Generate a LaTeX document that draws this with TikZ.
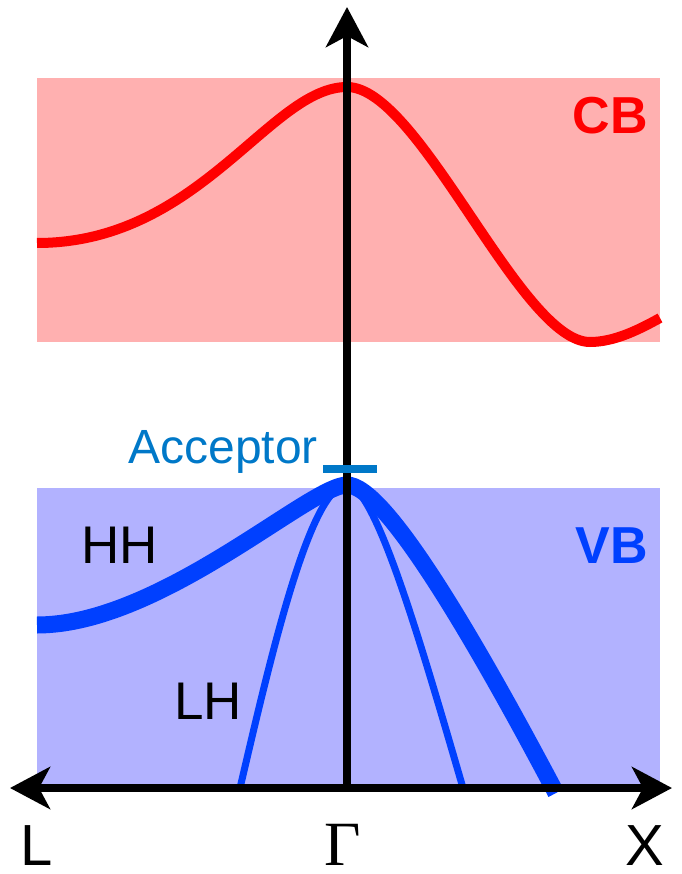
\documentclass[tikz,border=0pt]{standalone}
\usepackage{fontspec}
\setmainfont{Liberation Sans}
\newfontfamily\seriffam{Liberation Serif}
\usetikzlibrary{arrows.meta}
\definecolor{cbfill}{RGB}{255,176,176}
\definecolor{vbfill}{RGB}{178,178,255}
\definecolor{cbred}{RGB}{255,0,0}
\definecolor{vbblue}{RGB}{0,64,255}
\definecolor{accblue}{RGB}{0,120,200}
\begin{document}
\begin{tikzpicture}[x=1pt,y=-1pt,
  axisline/.style={line width=8pt,black},
  axtip/.style={-{Stealth[length=40pt,width=42pt,inset=11pt]}},
  bothtip/.style={{Stealth[length=40pt,width=42pt,inset=11pt]}-{Stealth[length=40pt,width=42pt,inset=11pt]}},
  cbcurve/.style={cbred,line width=10pt},
  hhcurve/.style={vbblue,line width=17pt},
  lhcurve/.style={vbblue,line width=7pt},
  lbl/.style={inner sep=0pt,font=\fontsize{53}{60}\selectfont},
  klbl/.style={inner sep=0pt,font=\fontsize{58}{66}\selectfont}]
\useasboundingbox (0,0) rectangle (681,874);
% band regions
\fill[cbfill] (37,78) rectangle (660,342);
\fill[vbfill] (37,488) rectangle (660,788);
% conduction band
\draw[cbcurve] (37,243) .. controls (200,243) and (270,87) .. (347,87)
  .. controls (420,87) and (520,342) .. (590,342)
  .. controls (615,342) and (640,329) .. (660,318);
% heavy hole
\draw[hhcurve] (37,625) .. controls (160,625) and (310,485) .. (347,485)
  .. controls (385,485) and (475,640) .. (556,793);
% light hole
\draw[lhcurve] (240,788) .. controls (270,660) and (310,485) .. (347,485)
  .. controls (375,485) and (420,640) .. (463,788);
% coordinates for axes
\coordinate (O) at (347,788);
\coordinate (Ltip) at (10,788);
\coordinate (Rtip) at (672,788);
\coordinate (Ttip) at (347,7);
\draw[axisline,axtip] (O) -- (Ttip);
\draw[axisline,bothtip] (Ltip) -- (Rtip);
% acceptor level
\coordinate (accL) at (323,469);
\coordinate (accR) at (377,469);
\draw[accblue,line width=8pt] (accL) -- (accR);
\node[inner sep=0pt,anchor=base east,text=accblue,font=\fontsize{48}{55}\selectfont] (acc) at (318,463) {Acceptor};
% labels
\node[lbl,anchor=base east,text=cbred,font=\fontsize{52}{60}\selectfont\bfseries] (cb) at (648,134) {CB};
\node[lbl,anchor=base east,text=vbblue,font=\fontsize{52}{60}\selectfont\bfseries] (vb) at (648,563) {VB};
\node[lbl,anchor=base west] (hh) at (81,563) {HH};
\node[lbl,anchor=base west] (lh) at (174,719) {LH};
\node[klbl,anchor=base west] (kL) at (20,865) {L};
\node[inner sep=0pt,anchor=base,font=\fontsize{63}{70}\selectfont\seriffam] (kG) at (343,865) {Γ};
\node[klbl,anchor=base] (kX) at (645,865) {X};
\end{tikzpicture}
\end{document}
